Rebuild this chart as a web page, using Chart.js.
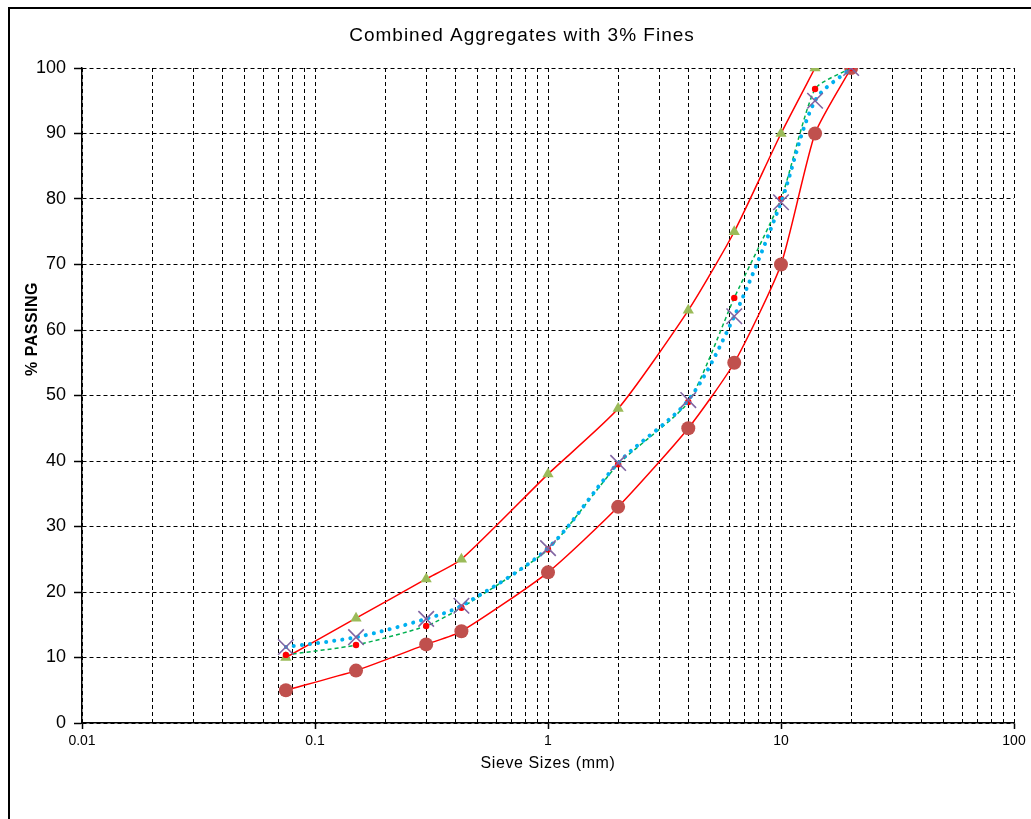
<!DOCTYPE html>
<html>
<head>
<meta charset="utf-8">
<script src="https://cdn.jsdelivr.net/npm/chart.js@4/dist/chart.umd.min.js"></script>
<style>
  html, body { margin: 0; padding: 0; background: #fff; }
  #wrap { width: 1031px; height: 819px; }
</style>
</head>
<body>
<div id="wrap"><canvas id="chart" width="1031" height="819"></canvas></div>
<script>
// sieve sizes (mm) and % passing
const sieveSizes = [0.075, 0.15, 0.3, 0.425, 1, 2, 4, 6.3, 10, 14, 20];
const lowerLimit = [5, 8, 12, 14, 23, 33, 45, 55, 70, 90, 100];
const upperLimit = [10, 16, 22, 25, 38, 48, 63, 75, 90, 100, null];
const combined = [10.4, 11.9, 14.8, 17.6, 26.5, 39.5, 49, 64.9, 80, 96.8, 100];
const blended = [11.6, 13.1, 15.9, 17.9, 26.7, 39.7, 49.3, 62.1, 79.5, 95, 100];

const xTickLabels = ['0.01', '0.1', '1', '10', '100'];
const yTickLabels = ['0', '10', '20', '30', '40', '50', '60', '70', '80', '90', '100'];

const chartTitle = 'Combined Aggregates with 3% Fines';
const xTitle = 'Sieve Sizes (mm)';
const yTitle = '% PASSING';

const FONT = '"Liberation Sans", Arial, sans-serif';

function pts(values) {
    return sieveSizes.map((s, i) => ({ x: s, y: values[i] }));
}

function isMajor(v) {
    return xTickLabels.some(t => Math.abs(parseFloat(t) - v) < 1e-9);
}

// gridline positions for the log axis: 1..9 of every decade
const xGridValues = [];
for (let d = -2; d < 2; d++) {
    for (let m = 1; m < 10; m++) xGridValues.push(+(m * Math.pow(10, d)).toPrecision(3));
}
xGridValues.push(100);

const frame = {
    id: 'frame',
    beforeDraw(chart) {
        const ctx = chart.ctx;
        ctx.save();
        ctx.fillStyle = '#fff';
        ctx.fillRect(0, 0, chart.width, chart.height);
        ctx.strokeStyle = '#000';
        ctx.lineWidth = 2;
        ctx.beginPath();
        ctx.moveTo(1040, 8);
        ctx.lineTo(9, 8);
        ctx.lineTo(9, 830);
        ctx.stroke();
        ctx.restore();
    },
    afterDraw(chart) {
        const ctx = chart.ctx;
        ctx.save();
        ctx.fillStyle = '#000';
        ctx.textAlign = 'center';
        ctx.textBaseline = 'middle';
        ctx.font = '19px ' + FONT;
        ctx.letterSpacing = '1px';
        ctx.fillText(chartTitle, 522, 36);
        ctx.font = '16px ' + FONT;
        ctx.letterSpacing = '0.6px';
        ctx.fillText(xTitle, 548, 764);
        ctx.translate(33, 329);
        ctx.rotate(-Math.PI / 2);
        ctx.font = 'bold 16px ' + FONT;
        ctx.letterSpacing = '0.5px';
        ctx.fillText(yTitle, 0, 0);
        ctx.restore();
    }
};

new Chart(document.getElementById('chart'), {
    type: 'line',
    data: {
        datasets: [
            {
                label: 'Blend',
                data: pts(blended),
                borderColor: '#00B0F0',
                borderWidth: 4,
                borderDash: [0.1, 8],
                borderCapStyle: 'round',
                tension: 0.3,
                pointStyle: 'crossRot',
                pointRadius: 11,
                pointBorderColor: '#8064A2',
                pointBorderWidth: 1.6,
                order: 1
            },
            {
                label: 'Combined',
                data: pts(combined),
                borderColor: '#00B050',
                borderWidth: 1.5,
                borderDash: [4, 3],
                tension: 0.2,
                pointStyle: 'circle',
                pointRadius: 3.2,
                pointBackgroundColor: '#FF0000',
                pointBorderColor: '#FF0000',
                pointBorderWidth: 0,
                order: 2
            },
            {
                label: 'Upper',
                data: pts(upperLimit),
                borderColor: '#FF0000',
                borderWidth: 1.5,
                tension: 0.2,
                spanGaps: false,
                pointStyle: 'triangle',
                pointRadius: 6.5,
                pointBackgroundColor: '#9BBB59',
                pointBorderColor: '#9BBB59',
                pointBorderWidth: 0,
                order: 3
            },
            {
                label: 'Lower',
                data: pts(lowerLimit),
                borderColor: '#FF0000',
                borderWidth: 1.5,
                tension: 0.2,
                pointStyle: 'circle',
                pointRadius: 7,
                pointBackgroundColor: '#C0504D',
                pointBorderColor: '#C0504D',
                pointBorderWidth: 0,
                order: 4
            }
        ]
    },
    options: {
        responsive: false,
        animation: false,
        layout: { padding: { left: 0, right: 17, top: 68, bottom: 0 } },
        plugins: {
            legend: { display: false },
            title: { display: false },
            tooltip: { enabled: false }
        },
        scales: {
            x: {
                type: 'logarithmic',
                min: 0.01,
                max: 100,
                afterBuildTicks: s => { s.ticks = xGridValues.map(v => ({ value: v })); },
                afterFit: s => { s.height = 96; },
                grid: {
                    color: '#000',
                    lineWidth: 1,
                    drawTicks: true,
                    tickLength: 6,
                    tickWidth: 1.5,
                    tickBorderDash: [],
                    tickColor: c => (c.tick && isMajor(c.tick.value)) ? '#000' : 'rgba(0,0,0,0)'
                },
                border: { display: true, color: '#000', width: 1.5, dash: [4, 3] },
                ticks: {
                    autoSkip: false,
                    maxRotation: 0,
                    padding: 4,
                    color: '#000',
                    font: { family: FONT, size: 14 },
                    callback: v => {
                        const lbl = xTickLabels.find(t => Math.abs(parseFloat(t) - v) < 1e-9);
                        return lbl || '';
                    }
                }
            },
            y: {
                min: 0,
                max: 100,
                afterFit: s => { s.width = 82; },
                grid: {
                    color: '#000',
                    lineWidth: 1,
                    drawTicks: true,
                    tickLength: 8,
                    tickWidth: 1.5,
                    tickBorderDash: [],
                    tickColor: '#000'
                },
                border: { display: true, color: '#000', width: 1.5, dash: [4, 3] },
                ticks: {
                    stepSize: 10,
                    padding: 8,
                    color: '#000',
                    font: { family: FONT, size: 18 },
                    callback: (v, i) => yTickLabels[i]
                }
            }
        }
    },
    plugins: [frame]
});
</script>
</body>
</html>
